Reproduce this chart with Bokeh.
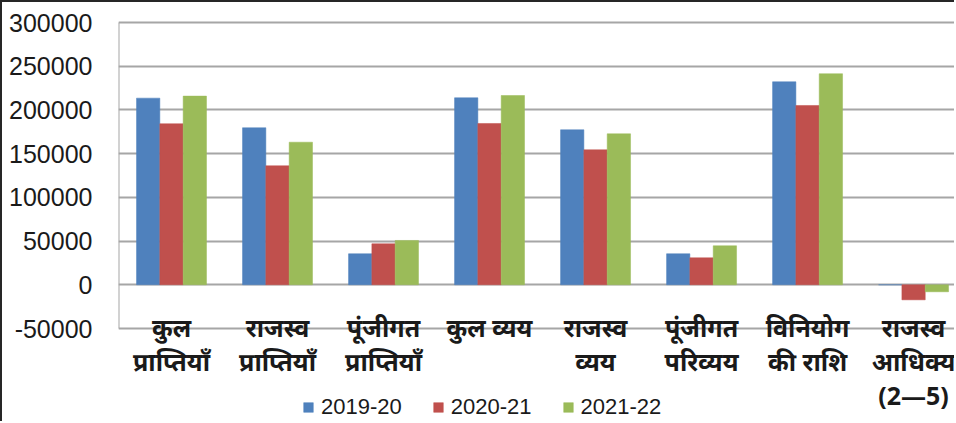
from bokeh.plotting import figure
from bokeh.models import ColumnDataSource, FixedTicker, Legend, LegendItem, Range1d, NumeralTickFormatter
from bokeh.transform import dodge
from bokeh.core.properties import value
from bokeh.embed import file_html
from bokeh.resources import INLINE

categories = ["कुल\nप्राप्तियाँ", "राजस्व\nप्राप्तियाँ", "पूंजीगत\nप्राप्तियाँ", "कुल व्यय",
              "राजस्व\nव्यय", "पूंजीगत\nपरिव्यय", "विनियोग\nकी राशि", "राजस्व\nआधिक्य\n(2—5)"]
series_names = ["2019-20", "2020-21", "2021-22"]
v2019 = [213500, 179600, 35500, 213900, 177300, 35500, 232200, 0]
v2020 = [184200, 136100, 46900, 184500, 154400, 30900, 205100, -17200]
v2021 = [215800, 163100, 50700, 216500, 172700, 44600, 241400, -8000]
y_ticks = [-50000, 0, 50000, 100000, 150000, 200000, 250000, 300000]
colors = ["#4F81BD", "#C0504D", "#9BBB59"]

idx = list(range(len(categories)))
src = ColumnDataSource(dict(x=idx, a=v2019, b=v2020, c=v2021))
ymin, ymax = y_ticks[0], y_ticks[-1]

# frame extends below the value axis to hold the category labels and legend
p = figure(width=954, height=421, output_backend="svg", toolbar_location=None,
           x_range=Range1d(-0.5, 7.405), y_range=Range1d(-158660, 302290),
           min_border_left=116, min_border_right=0, min_border_top=18, min_border_bottom=0)
p.styles = {"border-left": "2px solid #262626", "border-top": "2px solid #262626"}
p.outline_line_color = None
p.background_fill_color = "white"
p.xaxis.visible = False

bw = 0.22
renderers = []
for key, off, col in zip(["a", "b", "c"], [-bw, 0, bw], colors):
    r = p.vbar(x=dodge("x", off, range=p.x_range), top=key, bottom=0, width=bw, source=src,
               fill_color=col, line_color=col, line_width=0.5)
    renderers.append(r)

# y axis
p.yaxis.ticker = FixedTicker(ticks=y_ticks)
p.yaxis.formatter = NumeralTickFormatter(format="0")
p.yaxis.major_label_text_font = "Liberation Sans"
p.yaxis.major_label_text_font_size = "25px"
p.yaxis.major_label_text_color = "#1a1a1a"
p.yaxis.major_tick_line_color = None
p.yaxis.minor_tick_line_color = None
p.yaxis.major_label_standoff = 20
p.yaxis.axis_line_color = None
p.ygrid.grid_line_color = "#a6a6a6"
p.ygrid.grid_line_width = 2
p.xgrid.grid_line_color = None

# value-axis line from -50000 to 300000 at the left edge of the frame
p.segment(x0=[p.x_range.start], y0=[ymin], x1=[p.x_range.start], y1=[ymax],
          line_color="#a6a6a6", line_width=2)

# category labels
p.text(x=idx, y=[ymin] * len(idx), text=categories, text_align="center", text_baseline="top",
       y_offset=-19, text_font=value("Noto Sans"), text_font_style="bold",
       text_font_size="25px", text_color="#1a1a1a", text_line_height=1.0)

legend = Legend(items=[LegendItem(label=n, renderers=[r]) for n, r in zip(series_names, renderers)],
                orientation="horizontal", location=(184, 3),
                label_text_font="Liberation Sans", label_text_font_size="22px",
                label_text_color="#1a1a1a", glyph_width=12, glyph_height=12,
                label_standoff=7, spacing=30, padding=0, margin=0,
                border_line_color=None, background_fill_alpha=0)
p.add_layout(legend, "center")

open("out.html", "w").write(file_html(p, INLINE))
